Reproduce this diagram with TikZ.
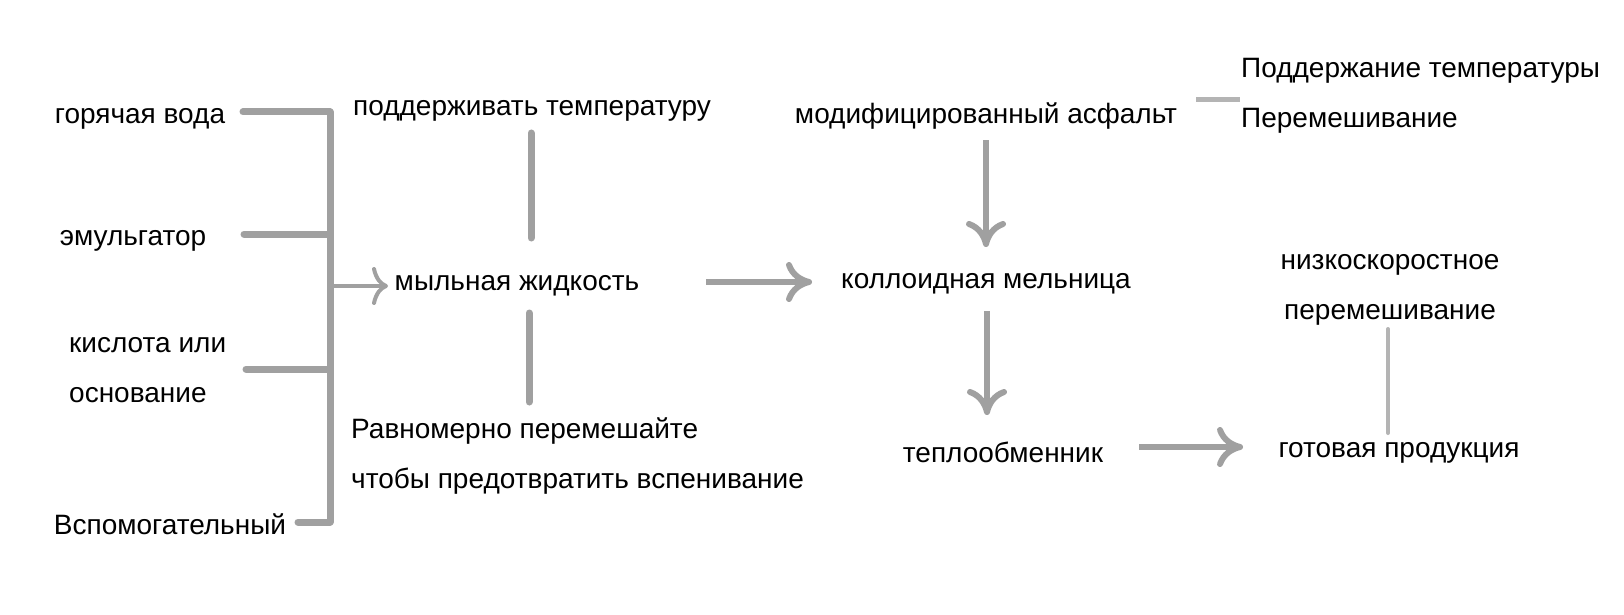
\documentclass[tikz,border=0pt]{standalone}
\usepackage{fontspec}
\setmainfont{Liberation Sans}
\usetikzlibrary{arrows.meta}
\definecolor{lg}{HTML}{A0A0A0}
\definecolor{lg2}{HTML}{B4B4B4}
\begin{document}
\begin{tikzpicture}[x=1pt,y=-1pt,
  txt/.style={font=\fontsize{28}{50}\selectfont, inner sep=0pt, text=black, yshift=-4pt},
  bar/.style={draw=lg, line width=7pt, line cap=round},
  thinbar/.style={draw=lg2, line width=4pt, line cap=round},
  arr/.style={draw=lg, line width=6pt, -{Computer Modern Rightarrow[length=26pt,width=40pt]}},
  smallarr/.style={draw=lg, line width=4pt, -{Computer Modern Rightarrow[length=16pt,width=38pt]}}]
\useasboundingbox[fill=white] (0,0) rectangle (1624,615);

% left inputs
\node[txt] (hw) at (140,115) {горячая вода};
\node[txt] (em) at (133,237) {эмульгатор};
\node[txt, align=left, anchor=west] (ac) at (69,366) {кислота или\\основание};
\node[txt] (aux) at (170,520) {Вспомогательный};

\coordinate (hwL) at (243,112);
\coordinate (emL) at (244,234);
\coordinate (acL) at (246,369);
\coordinate (auxL) at (298,522);
\coordinate (b1) at (330,112);
\coordinate (b2) at (330,234);
\coordinate (b3) at (330,369);
\coordinate (b4) at (330,522);
\coordinate (bm) at (333,286);

\draw[bar] (hwL) -- (b1);
\draw[bar] (emL) -- (b2);
\draw[bar] (acL) -- (b3);
\draw[bar] (auxL) -- (b4);
\draw[bar] (b1) -- (b4);

% soap liquid
\node[txt] (soap) at (517,282) {мыльная жидкость};
\node[txt] (pt) at (532,107) {поддерживать температуру};
\node[txt, align=left, anchor=west] (mix) at (351,452) {Равномерно перемешайте\\чтобы предотвратить вспенивание};
\coordinate (soapIn) at (388,286);
\draw[smallarr] (bm) -- (soapIn);

\coordinate (v1a) at (531,133);
\coordinate (v1b) at (531,238);
\coordinate (v2a) at (529,313);
\coordinate (v2b) at (529,402);
\draw[bar] (v1a) -- (v1b);
\draw[bar] (v2a) -- (v2b);

% colloid mill
\node[txt] (col) at (986,280) {коллоидная мельница};
\node[txt] (mod) at (986,112) {модифицированный асфальт};
\node[txt, align=left, anchor=west] (keep) at (1241,91.5) {Поддержание температуры\\Перемешивание};

\coordinate (a1s) at (706,282);
\coordinate (a1e) at (812,282);
\draw[arr] (a1s) -- (a1e);

\coordinate (dashA) at (1196,100);
\coordinate (dashB) at (1240,100);
\draw[draw=lg2, line width=5pt] (dashA) -- (dashB);

\coordinate (a2s) at (986,140);
\coordinate (a2e) at (986,247);
\draw[arr] (a2s) -- (a2e);

\node[txt] (hx) at (1003,448) {теплообменник};
\coordinate (a3s) at (987,311);
\coordinate (a3e) at (987,415);
\draw[arr] (a3s) -- (a3e);

\node[txt] (fin) at (1399,449) {готовая продукция};
\coordinate (a4s) at (1139,447);
\coordinate (a4e) at (1243,447);
\draw[arr] (a4s) -- (a4e);

\node[txt, align=center] (low) at (1390,286) {низкоскоростное\\перемешивание};
\coordinate (v3a) at (1388,329);
\coordinate (v3b) at (1388,433);
\draw[thinbar] (v3a) -- (v3b);
\end{tikzpicture}
\end{document}
